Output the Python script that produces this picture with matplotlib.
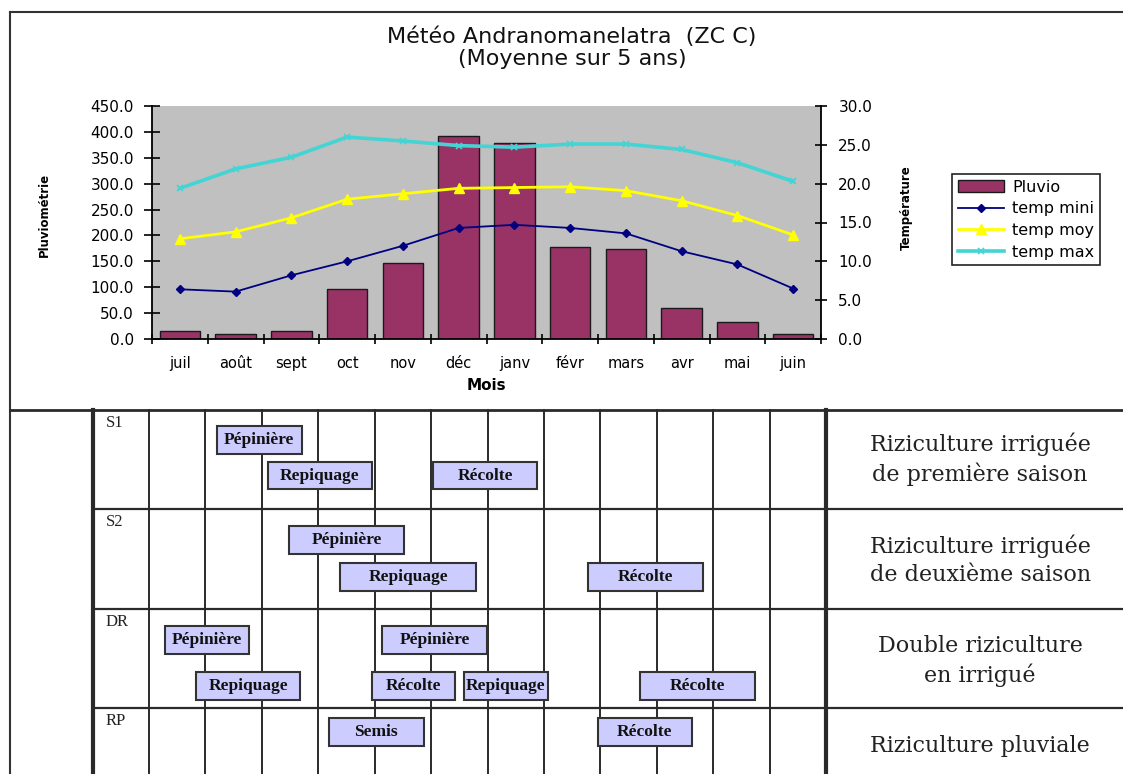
import matplotlib
matplotlib.use('Agg')
import matplotlib.pyplot as plt
from matplotlib.patches import Rectangle
from matplotlib.ticker import FormatStrFormatter, FixedLocator
import numpy as np

# ---------------- data ----------------
months = ['juil', 'août', 'sept', 'oct', 'nov', 'déc', 'janv', 'févr', 'mars', 'avr', 'mai', 'juin']
pluvio = [16, 10, 15, 96, 147, 392, 378, 177, 174, 59, 33, 9]
temp_mini = [6.4, 6.1, 8.2, 10.0, 12.0, 14.3, 14.7, 14.3, 13.6, 11.3, 9.6, 6.5]
temp_moy = [12.9, 13.8, 15.6, 18.0, 18.7, 19.4, 19.5, 19.6, 19.1, 17.8, 15.9, 13.4]
temp_max = [19.4, 21.9, 23.4, 26.0, 25.5, 24.9, 24.7, 25.1, 25.1, 24.4, 22.7, 20.3]

row_codes = ['S1', 'S2', 'DR', 'RP']
row_desc = ['Riziculture irriguée\nde première saison',
            'Riziculture irriguée\nde deuxième saison',
            'Double riziculture\nen irrigué',
            'Riziculture pluviale']

# calendar activities: label, row, start month, end month (month units from juil)
act_names = ['Pépinière', 'Repiquage', 'Récolte',
             'Pépinière', 'Repiquage', 'Récolte',
             'Pépinière', 'Repiquage', 'Pépinière', 'Récolte', 'Repiquage', 'Récolte',
             'Semis', 'Récolte']
act_row = [0, 0, 0, 1, 1, 1, 2, 2, 2, 2, 2, 2, 3, 3]
act_start = [1.20, 2.11, 5.03, 2.48, 3.39, 7.78, 0.28, 0.83, 4.13, 3.95, 5.58, 8.70, 3.19, 7.96]
act_end = [2.71, 3.95, 6.88, 4.52, 5.80, 9.82, 1.77, 2.68, 5.99, 5.42, 7.07, 10.74, 4.87, 9.62]
act_lane = [0.30, 0.66, 0.66, 0.31, 0.68, 0.68, 0.32, 0.78, 0.32, 0.78, 0.78, 0.78, 0.24, 0.24]

# ---------------- figure ----------------
W, H = 1123, 774
fig = plt.figure(figsize=(W / 100, H / 100), dpi=100)
fig.patch.set_facecolor('white')

def fx(px):
    return px / W

def fy(py):
    return 1 - py / H

# overlay for the frame / free texts (pixel coords)
ov = fig.add_axes([0, 0, 1, 1])
ov.set_xlim(0, W)
ov.set_ylim(H, 0)
ov.axis('off')
ov.plot([10, W], [12, 12], color='#333333', lw=1.5)
ov.plot([10, 10], [12, H], color='#333333', lw=1.5)

sans = 'DejaVu Sans'
ov.text(572, 37, 'Météo Andranomanelatra  (ZC C)', ha='center', va='center',
        fontsize=16, family=sans, color='#111111')
ov.text(572, 59, '(Moyenne sur 5 ans)', ha='center', va='center',
        fontsize=16, family=sans, color='#111111')
ov.text(486, 386, 'Mois', ha='center', va='center', fontsize=11,
        fontweight='bold', family=sans)
ov.text(44, 215, 'Pluviométrie', ha='center', va='center', rotation=90,
        fontsize=8.5, fontweight='bold', family=sans)
ov.text(906, 208, 'Température', ha='center', va='center', rotation=90,
        fontsize=8.5, fontweight='bold', family=sans)

# ---------------- chart ----------------
pl, pr, pt, pb = 152, 821, 106, 339
ax1 = fig.add_axes([fx(pl), fy(pb), fx(pr - pl), (pb - pt) / H])
ax1.set_facecolor('#c0c0c0')
x = np.arange(len(months))
bars = ax1.bar(x, pluvio, width=0.73, color='#993366', edgecolor='#1a1a1a',
               linewidth=1.0, label='Pluvio', zorder=2)
ax1.set_xlim(-0.5, len(months) - 0.5)
ax1.set_ylim(0, 450)
ax1.set_yticks(np.arange(0, 451, 50))
ax1.yaxis.set_major_formatter(FormatStrFormatter('%.1f'))
ax1.set_xticks(x)
ax1.set_xticklabels(months)
ax1.xaxis.set_minor_locator(FixedLocator(np.arange(-0.5, len(months), 1.0)))
ax1.tick_params(axis='x', which='major', length=0, pad=12, labelsize=10.5)
ax1.tick_params(axis='x', which='minor', length=7, direction='inout', width=1.2)
ax1.tick_params(axis='y', which='major', length=12, direction='inout', width=1.2,
                pad=7, labelsize=11)
for s in ['top', 'right']:
    ax1.spines[s].set_visible(False)
ax1.spines['left'].set_linewidth(1.3)
ax1.spines['bottom'].set_linewidth(1.3)

ax2 = ax1.twinx()
ax2.set_ylim(0, 30)
ax2.set_yticks(np.arange(0, 31, 5))
ax2.yaxis.set_major_formatter(FormatStrFormatter('%.1f'))
ax2.tick_params(axis='y', length=9, direction='inout', width=1.2, pad=8, labelsize=11)
for s in ['top', 'left', 'bottom']:
    ax2.spines[s].set_visible(False)
ax2.spines['right'].set_linewidth(1.3)
l1, = ax2.plot(x, temp_mini, color='#000080', lw=1.3, marker='D', ms=4,
               label='temp mini')
l2, = ax2.plot(x, temp_moy, color='#ffff00', lw=2.0, marker='^', ms=7,
               label='temp moy')
l3, = ax2.plot(x, temp_max, color='#44d4d4', lw=2.6, marker='x', ms=5,
               mew=1.2, label='temp max')

leg = fig.legend([bars, l1, l2, l3], ['Pluvio', 'temp mini', 'temp moy', 'temp max'],
                 loc='upper left', bbox_to_anchor=(fx(952), fy(174)),
                 bbox_transform=fig.transFigure, fancybox=False, shadow=False,
                 edgecolor='#222222', framealpha=1, prop={'family': sans, 'size': 11.5},
                 handlelength=2.9, handletextpad=0.5, labelspacing=0.42,
                 borderpad=0.35, borderaxespad=0)
leg.get_frame().set_linewidth(1.2)

# ---------------- calendar table ----------------
col0, colw = 149, 56.42      # px of first month column and width
row0, rowh = 410, 99.3        # px of first row and height
tl, tt, tr, tb = 10, 408, W, H
axt = fig.add_axes([fx(tl), 0, fx(tr - tl), (tb - tt) / H])
axt.set_xlim((tl - col0) / colw, (tr - col0) / colw)
axt.set_ylim((tb - row0) / rowh, (tt - row0) / rowh)
axt.axis('off')
xl, xr = axt.get_xlim()
yb, ytp = axt.get_ylim()
n = len(months)
lc = '#2a2a2a'
# top line
axt.plot([xl, xr], [0, 0], color=lc, lw=2.0, clip_on=False)
# vertical month lines
for k in range(n + 1):
    lw = 3.0 if k == n else 1.4
    axt.plot([k, k], [0, yb], color=lc, lw=lw, clip_on=False)
axt.plot([-1, -1], [0, yb], color=lc, lw=3.0, clip_on=False)
# row separators
for r in range(1, len(row_codes)):
    axt.plot([-1, xr], [r, r], color=lc, lw=1.6, clip_on=False)

serif = 'DejaVu Serif'
for r, code in enumerate(row_codes):
    axt.text(-0.77, r + 0.05, code, ha='left', va='top', fontsize=12,
             family='Liberation Serif', color='#222222')
ydesc = [0.5, 1.51, 2.53, 3.38]
for r, desc in enumerate(row_desc):
    axt.text((n + xr) / 2 + 0.1, ydesc[r], desc, ha='center', va='center',
             fontsize=16, family=serif, color='#222222', linespacing=1.35,
             fontweight='light')

bh = 0.28
for name, r, s, e, ln in zip(act_names, act_row, act_start, act_end, act_lane):
    rect = Rectangle((s, r + ln - bh / 2), e - s, bh, facecolor='#ccccff',
                     edgecolor='#333333', lw=1.5, zorder=3)
    axt.add_patch(rect)
    t = axt.text((s + e) / 2, r + ln, name, ha='center', va='center',
                 fontsize=12.5, fontweight='bold', family='Liberation Serif',
                 color='#111111', zorder=4)
    t.set_clip_path(rect)

fig.savefig('out.png', dpi=100, facecolor='white')
